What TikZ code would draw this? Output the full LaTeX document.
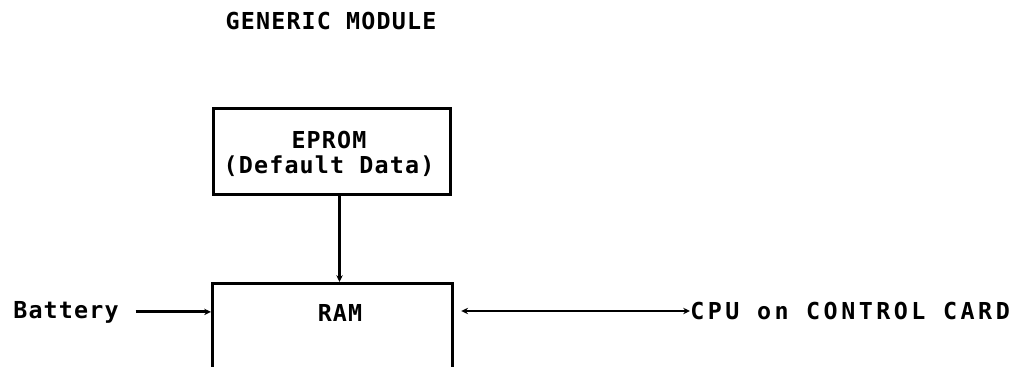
\documentclass[tikz,border=0pt]{standalone}
\usepackage{fontspec}
\newfontfamily\pfa{DejaVu Sans Mono}[LetterSpace=5]
\newfontfamily\pfb{DejaVu Sans Mono}[LetterSpace=15]
\usetikzlibrary{arrows.meta}
\tikzset{
  txt/.style={font=\pfa\bfseries\fontsize{16.6}{17.5}\selectfont, inner sep=0pt},
  txtw/.style={font=\pfb\bfseries\fontsize{16.6}{17.5}\selectfont, inner sep=0pt},
  box/.style={draw, line width=2.1pt, inner sep=0pt},
  conn/.style={line width=2pt, -{Stealth[length=0.17cm,width=0.16cm]}},
  conn2/.style={line width=2pt, {Stealth[length=0.17cm,width=0.16cm]}-{Stealth[length=0.17cm,width=0.16cm]}}
}
\begin{document}
\begin{tikzpicture}[x=0.025cm,y=-0.025cm]
\useasboundingbox (0,0) rectangle (1023,367);
\node[txt] (title) at (331,21) {GENERIC MODULE};
\node[box, minimum width=5.925cm, minimum height=2.15cm, anchor=north west] (eprom) at (212,107) {};
\node[txt, align=center] (eproml) at (329,154) {EPROM\\(Default Data)};
\node[box, minimum width=6cm, minimum height=5cm, anchor=north west] (ram) at (211,282) {};
\node[txt] (raml) at (340,313) {RAM};
\node[txt, anchor=base west] (bat) at (13,318) {Battery};
\node[txtw, anchor=west] (cpu) at (690,311) {CPU on CONTROL CARD};
\path (eprom.south) ++(7.5,0) coordinate (vtop);
\draw[conn] (vtop) -- (vtop |- ram.north);
\draw[conn, shorten <=0.42cm] (bat.east) -- (bat.east -| ram.west);
\draw[conn2, shorten <=0.18cm] (cpu.west -| ram.east) -- (cpu.west);
\end{tikzpicture}
\end{document}
